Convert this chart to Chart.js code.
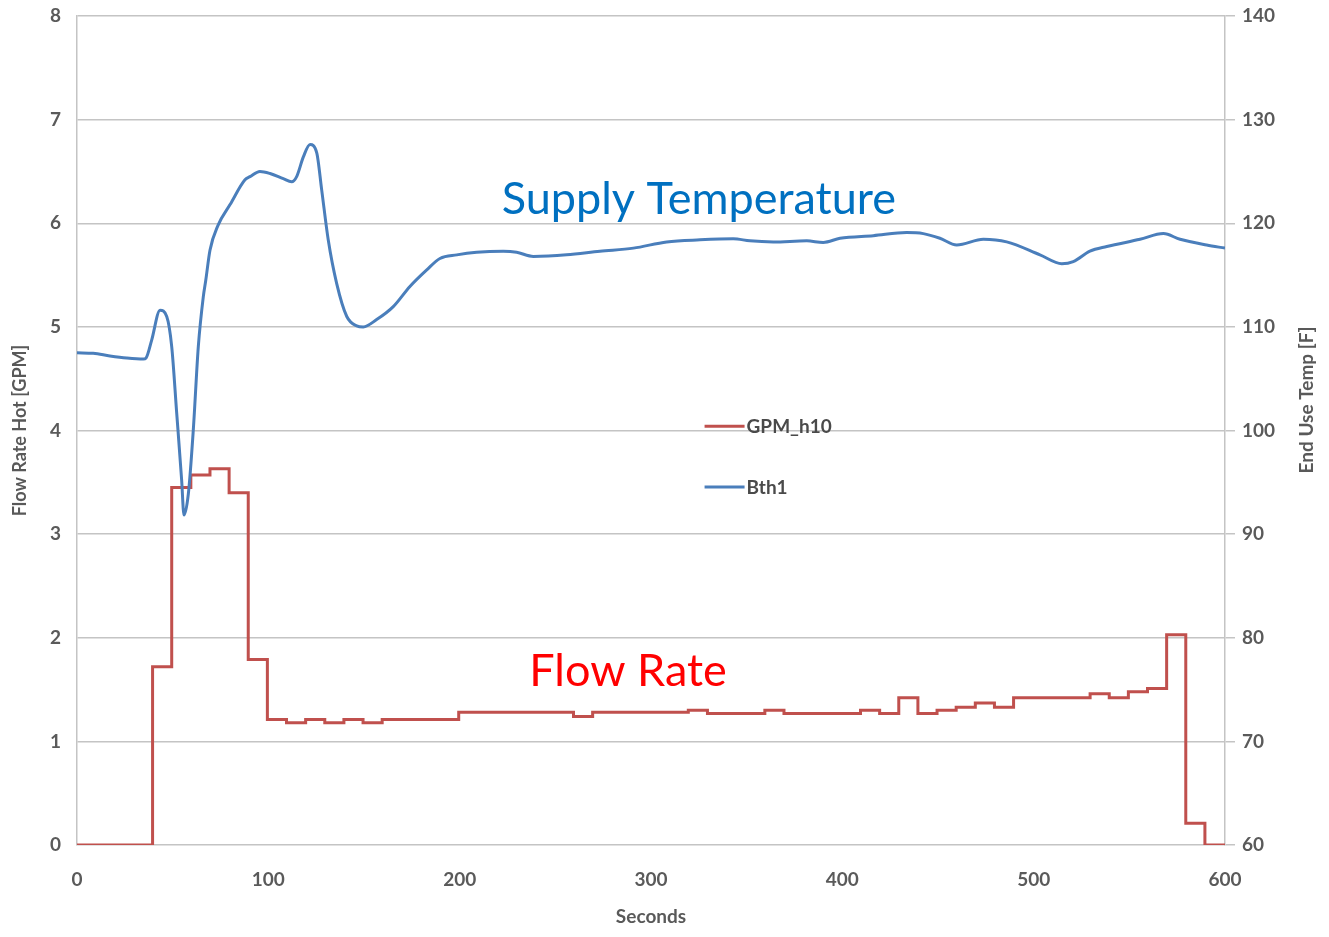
<!DOCTYPE html>
<html>
<head>
<meta charset="utf-8">
<script src="https://cdn.jsdelivr.net/npm/chart.js@4.4.1/dist/chart.umd.min.js"></script>
<style>
  html, body { margin: 0; padding: 0; background: #ffffff; }
  #wrap { width: 1329px; height: 937px; }
</style>
</head>
<body>
<div id="wrap"><canvas id="c" width="1329" height="937"></canvas></div>
<script>
// ---- data ----
const xTickLabels = ['0', '100', '200', '300', '400', '500', '600'];

// Flow rate (GPM) – step changes every ~10 s (value holds from its time until the next)
const flowSeconds = [0, 9.5, 19.5, 29.5, 39.5, 49.5, 59.5, 69.5, 79.5, 89.5,
  99.5, 109.5, 119.5, 129.5, 139.5, 149.5, 159.5, 169.5, 179.5, 189.5,
  199.5, 209.5, 219.5, 229.5, 239.5, 249.5, 259.5, 269.5, 279.5, 289.5,
  299.5, 309.5, 319.5, 329.5, 339.5, 349.5, 359.5, 369.5, 379.5, 389.5,
  399.5, 409.5, 419.5, 429.5, 439.5, 449.5, 459.5, 469.5, 479.5, 489.5,
  499.5, 509.5, 519.5, 529.5, 539.5, 549.5, 559.5, 569.5, 579.5, 589.5, 600];
const flowGpm = [0, 0, 0, 0, 1.72, 3.45, 3.57, 3.63, 3.40, 1.79,
  1.21, 1.18, 1.21, 1.18, 1.21, 1.18, 1.21, 1.21, 1.21, 1.21,
  1.28, 1.28, 1.28, 1.28, 1.28, 1.28, 1.24, 1.28, 1.28, 1.28,
  1.28, 1.28, 1.30, 1.27, 1.27, 1.27, 1.30, 1.27, 1.27, 1.27,
  1.27, 1.30, 1.27, 1.42, 1.27, 1.30, 1.33, 1.37, 1.33, 1.42,
  1.42, 1.42, 1.42, 1.46, 1.42, 1.48, 1.51, 2.03, 0.21, 0, 0];

// End use temperature (F)
const tempSeconds = [0, 8.5, 17.2, 26, 34.7, 36.1, 39, 43.4, 46.9, 49.5,
  52.1, 54.7, 55.9, 58.2, 60.8, 63.4, 66, 67.3, 69.5, 73.7,
  80, 87.8, 90.4, 95.6, 100.9, 107.8, 112.2, 114.8, 118.3, 121.8,
  125.3, 127.9, 131.3, 135.7, 141, 146.2, 149.6, 156.6, 165.3, 174,
  182.8, 189.7, 198.5, 208.9, 222.8, 229.8, 238.5, 255.9, 273.3, 290.8,
  308.2, 325.6, 343, 351.7, 363.9, 381.4, 390, 398.8, 416.2, 433.6,
  442.3, 451, 459.8, 473.7, 485.9, 503.3, 514.7, 520.7, 529.4, 538.2,
  555.6, 567.8, 576.5, 590.4, 600];
const tempF = [107.5, 107.45, 107.2, 107.0, 106.9, 107.0, 108.7, 111.6, 111.0, 108.1,
  101.7, 95.2, 91.85, 93.9, 100.1, 108.1, 112.9, 114.5, 117.4, 119.8,
  121.8, 124.2, 124.5, 125.0, 124.8, 124.3, 124.0, 124.5, 126.4, 127.6,
  126.8, 123.2, 118.4, 114.2, 111.0, 110.1, 110.0, 110.7, 111.95, 113.9,
  115.5, 116.6, 116.95, 117.2, 117.3, 117.2, 116.8, 116.95, 117.3, 117.6,
  118.2, 118.4, 118.5, 118.3, 118.2, 118.3, 118.15, 118.55, 118.8, 119.1,
  119.0, 118.55, 117.9, 118.45, 118.2, 116.95, 116.1, 116.3, 117.3, 117.75,
  118.45, 119.0, 118.45, 117.9, 117.6];

const seriesNames = ['GPM_h10', 'Bth1'];
const annotationTexts = ['Supply Temperature', 'Flow Rate'];
const leftTitle = 'Flow Rate Hot [GPM]';
const rightTitle = 'End Use Temp [F]';
const xTitle = 'Seconds';

// ---- styles ----
const RED = '#c0504d';
const BLUE = '#4a7ebb';
const GRID = '#c4c4c4';
const TICK_COLOR = '#5a5a5a';
const TITLE_COLOR = '#595959';
const FONT = 'Lato, "Open Sans", sans-serif';

const overlayPlugin = {
  id: 'overlay',
  afterDraw(chart) {
    const ctx = chart.ctx;
    const xs = chart.scales.x, ys = chart.scales.y;
    ctx.save();
    // legend inside plot
    const legendItems = [
      { name: seriesNames[0], color: RED, sx: 328, gy: 4.04 },
      { name: seriesNames[1], color: BLUE, sx: 328, gy: 3.455 }
    ];
    ctx.font = 'bold 19px ' + FONT;
    ctx.textBaseline = 'middle';
    ctx.textAlign = 'left';
    legendItems.forEach(it => {
      const x0 = xs.getPixelForValue(it.sx);
      const y0 = ys.getPixelForValue(it.gy);
      ctx.strokeStyle = it.color;
      ctx.lineWidth = 3;
      ctx.beginPath();
      ctx.moveTo(x0, y0);
      ctx.lineTo(x0 + 40, y0);
      ctx.stroke();
      ctx.fillStyle = '#4a4a4a';
      ctx.fillText(it.name, x0 + 42, y0 + 1);
    });
    // big annotations
    ctx.textAlign = 'center';
    ctx.textBaseline = 'alphabetic';
    ctx.font = '45px ' + FONT;
    ctx.fillStyle = '#0070c0';
    ctx.fillText(annotationTexts[0], xs.getPixelForValue(325), ys.getPixelForValue(6.09));
    ctx.fillStyle = '#ff0000';
    ctx.fillText(annotationTexts[1], xs.getPixelForValue(288), ys.getPixelForValue(1.535));
    // right axis title (reads bottom to top)
    ctx.font = 'bold 19px ' + FONT;
    ctx.fillStyle = TITLE_COLOR;
    ctx.textBaseline = 'middle';
    ctx.translate(1307, 400);
    ctx.rotate(-Math.PI / 2);
    ctx.fillText(rightTitle, 0, 0);
    ctx.restore();
  }
};

function noPad(s) { s.paddingTop = 0; s.paddingBottom = 0; }

new Chart(document.getElementById('c'), {
  type: 'line',
  data: {
    datasets: [
      {
        label: seriesNames[0],
        data: flowSeconds.map((t, i) => ({ x: t, y: flowGpm[i] })),
        yAxisID: 'y',
        borderColor: RED,
        borderWidth: 3,
        stepped: 'before',
        pointRadius: 0,
        fill: false,
        order: 1
      },
      {
        label: seriesNames[1],
        data: tempSeconds.map((t, i) => ({ x: t, y: tempF[i] })),
        yAxisID: 'y2',
        borderColor: BLUE,
        borderWidth: 3,
        cubicInterpolationMode: 'monotone',
        pointRadius: 0,
        fill: false,
        order: 0
      }
    ]
  },
  options: {
    responsive: false,
    animation: false,
    layout: { padding: { top: 16, left: 0, right: 0, bottom: 0 } },
    plugins: { legend: { display: false }, tooltip: { enabled: false } },
    scales: {
      x: {
        type: 'linear', min: 0, max: 600,
        afterBuildTicks(s) { s.ticks = xTickLabels.map(v => ({ value: Number(v) })); },
        ticks: { font: { family: FONT, size: 19, weight: 'bold' }, color: TICK_COLOR, padding: 23, maxRotation: 0 },
        grid: { display: false, drawTicks: false },
        border: { display: false },
        title: { display: true, text: xTitle, font: { family: FONT, size: 19, weight: 'bold' }, color: TITLE_COLOR, padding: { top: 0, bottom: 9 } },
        afterFit(s) { s.height = 92; }
      },
      y: {
        position: 'left', min: 0, max: 8,
        ticks: { stepSize: 1, font: { family: FONT, size: 19, weight: 'bold' }, color: TICK_COLOR, padding: 16 },
        grid: { color: GRID, lineWidth: 1.5, drawTicks: false },
        border: { color: GRID, width: 1.5 },
        title: { display: true, text: leftTitle, font: { family: FONT, size: 18, weight: 'bold' }, color: TITLE_COLOR, padding: { top: 9, bottom: 0 } },
        afterFit(s) { s.width = 77; noPad(s); }
      },
      y2: {
        position: 'right', min: 60, max: 140,
        ticks: { stepSize: 10, font: { family: FONT, size: 19, weight: 'bold' }, color: TICK_COLOR, padding: 7 },
        grid: { drawOnChartArea: false, tickLength: 10, color: GRID, lineWidth: 1.5 },
        border: { color: GRID, width: 1.5 },
        afterFit(s) { s.width = 104; noPad(s); }
      }
    }
  },
  plugins: [overlayPlugin]
});
</script>
</body>
</html>
